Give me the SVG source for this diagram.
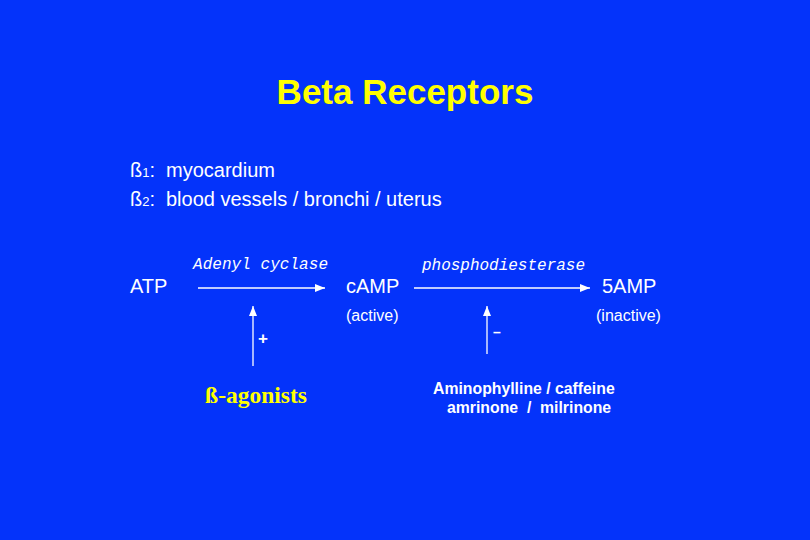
<svg xmlns="http://www.w3.org/2000/svg" width="810" height="540" viewBox="0 0 810 540">
<defs>
<style>
.s{font-family:"Liberation Sans",Arial,sans-serif;fill:#fff}
.m{font-family:"Liberation Mono","Courier New",monospace;font-style:italic;fill:#fff;font-size:16px}
.ln{stroke:#fff;stroke-width:1.3;fill:none}
</style>
<marker id="ah" markerWidth="10" markerHeight="8" refX="10" refY="4" orient="auto" markerUnits="userSpaceOnUse">
<path d="M0,0 L10,4 L0,8 Z" fill="#fff"/>
</marker>
</defs>
<rect width="810" height="540" fill="#0433FA"/>
<text x="405" y="104" text-anchor="middle" style="font-family:'Liberation Sans',Arial,sans-serif;font-weight:bold;font-size:35px;fill:#FFFF00">Beta Receptors</text>
<g id="list">
<text class="s" x="130" y="177" font-size="20">ß<tspan font-size="13">1</tspan>:<tspan x="166">myocardium</tspan></text>
<text class="s" x="130" y="206" font-size="20">ß<tspan font-size="13">2</tspan>:<tspan x="166">blood vessels / bronchi / uterus</tspan></text>
</g>
<g id="atp"><text class="s" x="130" y="293" font-size="20">ATP</text></g>
<g id="camp"><text class="s" x="346" y="293" font-size="20">cAMP</text><text class="s" x="346" y="321" font-size="16">(active)</text></g>
<g id="amp5"><text class="s" x="602" y="293" font-size="20">5AMP</text><text class="s" x="596" y="321" font-size="16">(inactive)</text></g>
<g id="agonists"><text x="256" y="403" text-anchor="middle" style="font-family:'Liberation Serif','Times New Roman',serif;font-weight:bold;font-size:23.5px;fill:#FFFF00">ß-agonists</text></g>
<g id="inhibitors">
<text class="s" x="433" y="394" font-size="15.8" font-weight="bold">Aminophylline / caffeine</text>
<text class="s" x="447" y="413" font-size="15.8" font-weight="bold" xml:space="preserve">amrinone  /  milrinone</text>
</g>
<g id="connectors">
<line class="ln" x1="198" y1="288" x2="325" y2="288" marker-end="url(#ah)"/>
<line class="ln" x1="414" y1="288" x2="590" y2="288" marker-end="url(#ah)"/>
<line class="ln" x1="253" y1="366" x2="253" y2="306" marker-end="url(#ah)"/>
<line class="ln" x1="487" y1="354" x2="487" y2="306" marker-end="url(#ah)"/>
<text class="m" x="193" y="269" textLength="135">Adenyl cyclase</text>
<text class="m" x="422" y="270" textLength="163">phosphodiesterase</text>
<text class="s" x="258" y="344" font-size="17" font-weight="bold">+</text>
<text class="s" x="493" y="337" font-size="14" font-weight="bold">–</text>
</g>
</svg>
